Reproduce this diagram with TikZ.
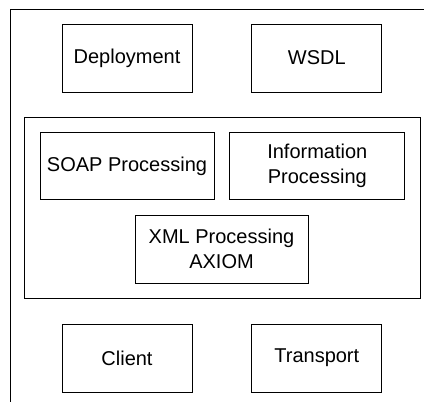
\documentclass[tikz,border=0pt]{standalone}
\usepackage{fontspec}
\setmainfont{Liberation Sans}
\usepackage{tikz}
\usetikzlibrary{positioning, fit}
\tikzstyle{module} = [rectangle, minimum width=130pt, minimum height=68pt, text centered, align=center, draw=black, line width=0.8pt, inner sep=0pt]
\tikzstyle{wide} = [module, minimum width=174pt, minimum height=67pt]
\tikzstyle{group} = [rectangle, draw=black, line width=0.8pt, inner sep=15pt]
\tikzstyle{frame} = [draw=black, line width=0.8pt]
\tikzstyle{every node}=[font=\fontsize{20}{25}\selectfont]

\begin{document}
\begin{tikzpicture}[x=1pt, y=-1pt, node distance=40pt]
		\useasboundingbox (0,0) rectangle (424,402);
		\node (deploy) [module] at (127,58) {Deployment};
		\node (wsdl) [module, right=59pt of deploy] {WSDL};
		
		\node (soap) [wide, below=40pt of deploy] {SOAP Processing};
		\node (info) [wide, right=15pt of soap, minimum width=175pt] {Information\\Processing};
		\node (xml) [wide, minimum width=173pt, minimum height=68pt] at (221.5,249) {XML Processing\\AXIOM};
		%rahmen um die kern-module
		\node (core) [group, fit=(soap) (info) (xml)] {};
		
		\node (client) [module] at (127,358) {Client};
		\node (transport) [module, right=59pt of client] {Transport};
		
		%aussenrahmen, rechts und unten offen
		\coordinate (corner) at (10,9);
		\draw [frame] (424,9) -- (corner) -- (10,402);
		
	\end{tikzpicture}
\end{document}
